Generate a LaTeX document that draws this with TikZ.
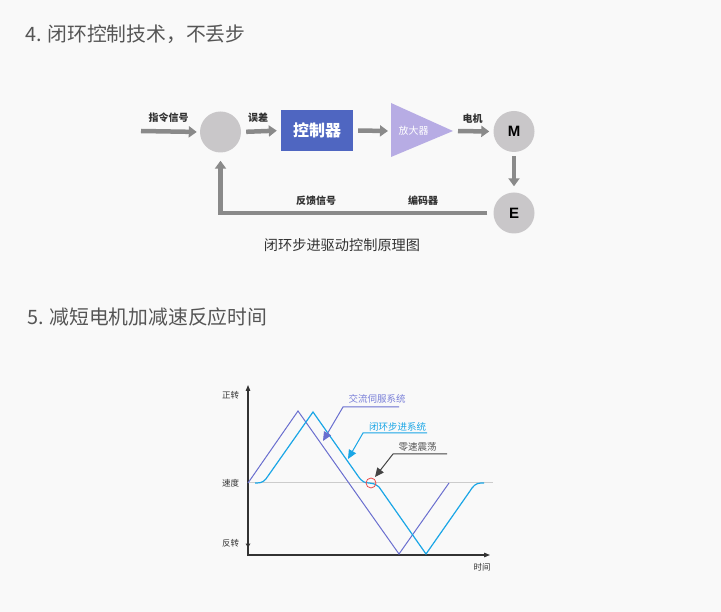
\documentclass[tikz,border=0pt]{standalone}
\usepackage{fontspec}
\setmainfont{Noto Sans CJK SC}
\newfontfamily\latinsans{Liberation Sans}
\usetikzlibrary{arrows.meta}
\definecolor{bg}{HTML}{F9F9F9}
\definecolor{titlegray}{HTML}{555555}
\definecolor{labgray}{HTML}{333333}
\definecolor{arrowgray}{HTML}{8A8A8A}
\definecolor{circgray}{HTML}{C9C7C9}
\definecolor{ctrlblue}{HTML}{4F66C1}
\definecolor{ampfill}{HTML}{B7ACE4}
\definecolor{servo}{HTML}{6A6FCF}
\definecolor{servotext}{HTML}{7A80D8}
\definecolor{closedcyan}{HTML}{1AA6E6}
\definecolor{zerogray}{HTML}{CCCCCC}
\definecolor{axisgray}{HTML}{333333}
\definecolor{leadgray}{HTML}{444444}
\definecolor{oscred}{HTML}{E84A4A}
\begin{document}
\begin{tikzpicture}[x=1pt,y=-1pt,
  titletext/.style={anchor=west,text=titlegray,font=\fontsize{19.8}{22}\selectfont,inner sep=0},
  flowlabel/.style={text=labgray,font=\fontsize{10}{12}\selectfont\bfseries,inner sep=0},
  circ/.style={circle,fill=circgray,minimum size=41pt,inner sep=0,font=\latinsans\bfseries\fontsize{15}{17}\selectfont},
  ctrlbox/.style={fill=ctrlblue,minimum width=72pt,minimum height=41pt,inner sep=0,text=white,font=\fontsize{16}{18}\selectfont\bfseries},
  flow/.style={draw=arrowgray,line width=4.5pt,miter limit=10,-{Triangle[length=8pt,width=11pt]}},
  axislabel/.style={text=labgray,font=\fontsize{8.5}{10}\selectfont,inner sep=0},
  axisline/.style={draw=axisgray,line width=1.2pt,-{Triangle[length=6pt,width=4.5pt]}},
  servoline/.style={draw=servo,line width=1pt,line join=miter},
  closedline/.style={draw=closedcyan,line width=1.2pt,line join=miter},
  leader/.style={line width=1pt,-{Triangle[length=9pt,width=8pt]}},
  chartlabel/.style={font=\fontsize{9.5}{11}\selectfont,inner sep=0}]
\useasboundingbox (0,0) rectangle (721,612);
\fill[bg] (0,0) rectangle (721,612);

% titles
\node[titletext] (t1) at (25,34) {4. 闭环控制技术，不丢步};
\node[titletext] (t2) at (27,317) {5. 减短电机加减速反应时间};

% block diagram
\node[circ] (sum) at (220.5,132) {};
\node[ctrlbox] (ctrl) at (317,130.5) {控制器};
\coordinate (ampL) at (391,131);
\coordinate (ampT) at (391,103);
\coordinate (ampB) at (391,157);
\coordinate (ampTip) at (453,131);
\fill[ampfill] (ampT) -- (ampTip) -- (ampB) -- cycle;
\node[text=white,font=\fontsize{10}{12}\selectfont,inner sep=0] (amp) at (413.5,131) {放大器};
\node[circ] (M) at (514,131.5) {M};
\node[circ] (E) at (514,213) {E};
\coordinate (in) at (141,131);

\draw[flow,shorten >=3pt] (in) -- (sum.west);
\draw[flow,shorten <=5pt,shorten >=4pt] (sum.east) -- (ctrl.west);
\draw[flow,shorten <=5pt,shorten >=3pt] (ctrl.east) -- (ampL);
\draw[flow,shorten <=5pt,shorten >=4pt] (ampTip) -- (M.west);
\draw[flow,shorten <=4pt,shorten >=6pt] (M.south) -- (E.north);
\draw[flow,shorten <=6pt,shorten >=8pt] (E.west) -- (sum.south |- E.west) -- (sum.south);

\node[flowlabel] (l1) at (168.5,118) {指令信号};
\node[flowlabel] (l2) at (258,118) {误差};
\node[flowlabel] (l3) at (472.5,119) {电机};
\node[flowlabel] (l4) at (316,201) {反馈信号};
\node[flowlabel] (l5) at (423,201) {编码器};
\node[text=labgray,font=\fontsize{14.2}{16}\selectfont,inner sep=0] (cap) at (342,245) {闭环步进驱动控制原理图};

% chart axes
\coordinate (org) at (248,555);
\coordinate (ytop) at (248,385);
\coordinate (xend) at (490,555);
\draw[draw=zerogray,line width=1pt] (248,483) -- (493,483);
\draw[axisline] (248,556) -- (ytop);
\draw[axisline] (org) -- (xend);
\fill[axisgray] (245.5,543.5) -- (250.5,543.5) -- (248,547.5) -- cycle;

\node[axislabel] (a1) at (230.5,395) {正转};
\node[axislabel] (a2) at (230.5,483) {速度};
\node[axislabel] (a3) at (230.5,543) {反转};
\node[axislabel] (a4) at (482,567) {时间};

% curves
\draw[servoline] (248,483) -- (298,411) -- (399,554) -- (449,483);
\draw[closedline] (255,483) -- (257,483) .. controls (262,483) and (265,481) .. (268,476)
  -- (313,412) -- (358,476) .. controls (362,482) and (365,483) .. (369.5,483)
  .. controls (373,483) and (375,484) .. (379,487) -- (426,554) -- (470,491)
  .. controls (473,486) and (476,483) .. (481,483) -- (484,483);

\node[circle,draw=oscred,line width=0.8pt,minimum size=10pt,inner sep=0] (osc) at (371,483) {};

% leaders and labels
\node[chartlabel,text=servotext] (ls) at (377,399) {交流伺服系统};
\coordinate (ls1) at (399,407);
\coordinate (ls0) at (343,407);
\coordinate (lsT) at (323,441);
\draw[leader,draw=servo] (ls1) -- (ls0) -- (lsT);

\node[chartlabel,text=closedcyan] (lc) at (397.5,427) {闭环步进系统};
\coordinate (lc1) at (427,433);
\coordinate (lc0) at (363,433);
\coordinate (lcT) at (348,459);
\draw[leader,draw=closedcyan] (lc1) -- (lc0) -- (lcT);

\node[chartlabel,text=titlegray] (lz) at (417.5,447) {零速震荡};
\coordinate (lz1) at (447,454);
\coordinate (lz0) at (393,454);
\coordinate (lzT) at (375,477);
\draw[leader,draw=leadgray] (lz1) -- (lz0) -- (lzT);
\end{tikzpicture}
\end{document}
